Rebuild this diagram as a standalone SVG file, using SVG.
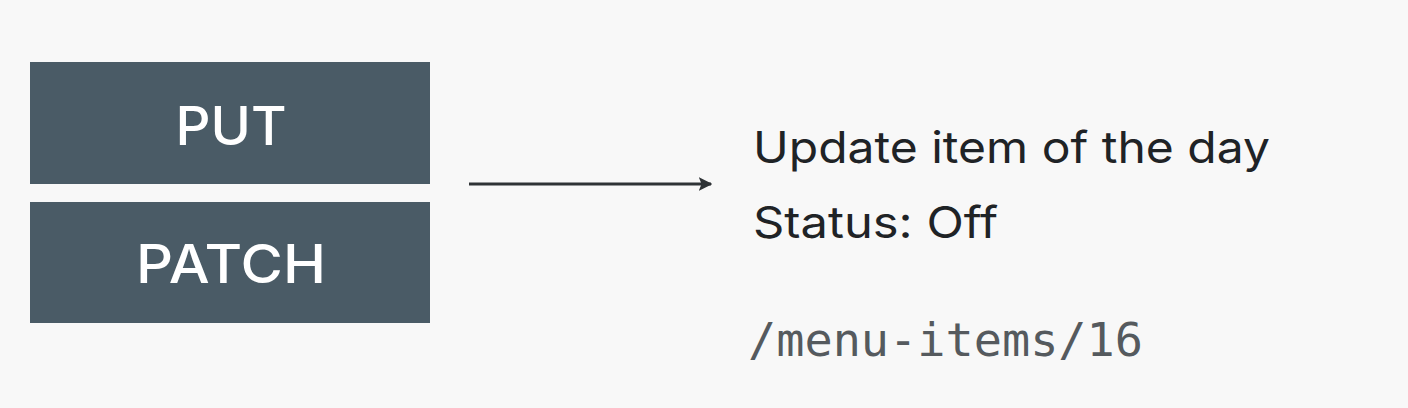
<svg xmlns="http://www.w3.org/2000/svg" width="1408" height="408" viewBox="0 0 1408 408">
<style>
.box{fill:#4a5b66}
.lbl{font-family:Inter,"Noto Sans",sans-serif;font-size:53px;fill:#ffffff;text-anchor:middle;font-weight:500}
.txt{font-family:Inter,"Noto Sans",sans-serif;font-size:44px;fill:#1f2326}
.mono{font-family:"DejaVu Sans Mono","Liberation Mono",monospace;font-size:46px;fill:#555a5e}
</style>
<defs>
<marker id="ah" viewBox="0 0 10 10" refX="9" refY="5" markerWidth="4.5" markerHeight="4.5" orient="auto" markerUnits="strokeWidth">
<path d="M0,0 L10,5 L0,10 L2,5 z" fill="#2f3336"/>
</marker>
</defs>
<rect width="1408" height="408" fill="#f8f8f8"/>
<g id="put">
<rect class="box" x="30" y="62" width="400" height="122"/>
<text class="lbl" x="231" y="145" textLength="111" lengthAdjust="spacingAndGlyphs">PUT</text>
</g>
<g id="patch">
<rect class="box" x="30" y="202" width="400" height="121"/>
<text class="lbl" x="231" y="283" textLength="190" lengthAdjust="spacingAndGlyphs">PATCH</text>
</g>
<g id="connectors">
<line x1="469" y1="184" x2="711" y2="184" stroke="#2f3336" stroke-width="3" marker-end="url(#ah)"/>
</g>
<g id="info">
<text class="txt" x="753" y="163" textLength="517" lengthAdjust="spacingAndGlyphs">Update item of the day</text>
<text class="txt" x="753" y="238" textLength="245" lengthAdjust="spacingAndGlyphs">Status: Off</text>
<text class="mono" x="748" y="356" textLength="395" lengthAdjust="spacingAndGlyphs">/menu-items/16</text>
</g>
</svg>
